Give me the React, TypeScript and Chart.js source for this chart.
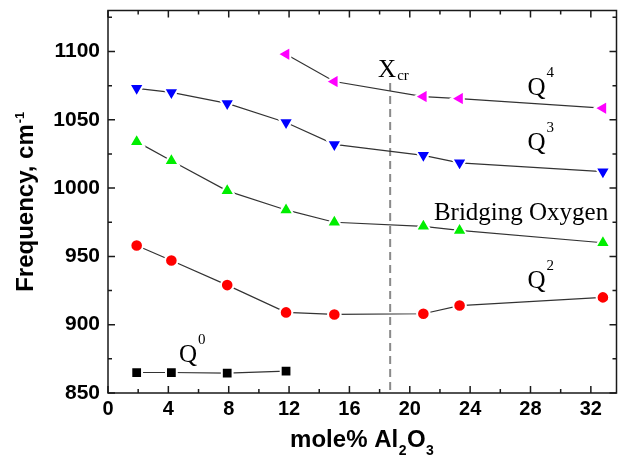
import React, { useEffect, useRef } from "react";
import { Chart, registerables } from "chart.js";

Chart.register(...registerables);

// ---- data ----
const xComp = [1.9, 4.2, 7.9, 11.8, 15.0, 20.9, 23.3, 32.8];
const xQ0 = [1.9, 4.2, 7.9, 11.8];
const xQ4 = [11.8, 15.0, 20.9, 23.3, 32.8];
const q0Values = [865, 865, 864.5, 866];
const q2Values = [958, 947, 929, 909, 907.5, 908, 914, 920];
const bridgingValues = [1034, 1020, 998, 984, 975, 972, 969, 960];
const q3Values = [1073, 1070, 1062, 1048, 1032, 1024, 1018.5, 1012];
const q4Values = [1098, 1078, 1067, 1065.5, 1058.5];
const xTickLabels = [0, 4, 8, 12, 16, 20, 24, 28, 32];
const yTickLabels = [850, 900, 950, 1000, 1050, 1100];
const xCritical = 18.7;

const SANS = '"Liberation Sans", Arial, sans-serif';
const SERIF = '"Liberation Serif", "Times New Roman", serif';

type Note = { x: number; y: number; main: string; script?: string; sup?: boolean };
const notes: Note[] = [
  { x: 17.9, y: 1081, main: "X", script: "cr", sup: false },
  { x: 27.8, y: 1068, main: "Q", script: "4", sup: true },
  { x: 27.8, y: 1028, main: "Q", script: "3", sup: true },
  { x: 27.8, y: 927, main: "Q", script: "2", sup: true },
  { x: 4.7, y: 872.5, main: "Q", script: "0", sup: true },
  { x: 21.6, y: 977, main: "Bridging Oxygen" },
];

const toPts = (xs: number[], ys: number[]) => ys.map((y, i) => ({ x: xs[i], y }));

const framePlugin = {
  id: "frameAndNotes",
  beforeDatasetsDraw(chart: any) {
    const { ctx, scales } = chart;
    const xs = scales.x;
    const ys = scales.y;
    const px = xs.getPixelForValue(xCritical);
    ctx.save();
    ctx.strokeStyle = "#8a8a8a";
    ctx.lineWidth = 2;
    ctx.setLineDash([8, 5]);
    ctx.beginPath();
    ctx.moveTo(px, ys.getPixelForValue(1077));
    ctx.lineTo(px, ys.getPixelForValue(850));
    ctx.stroke();
    ctx.restore();
  },
  afterDraw(chart: any) {
    const { ctx, chartArea, scales } = chart;
    const { left, right, top, bottom } = chartArea;
    const xs = scales.x;
    const ys = scales.y;
    ctx.save();
    ctx.setLineDash([]);
    ctx.strokeStyle = "#1a1a1a";
    ctx.lineWidth = 1.5;
    ctx.beginPath();
    ctx.rect(left, top, right - left, bottom - top);
    ctx.stroke();
    for (let v = 0; v <= xs.max + 1e-6; v += 2) {
      const p = xs.getPixelForValue(v);
      const len = v % 4 === 0 ? 7 : 4;
      ctx.beginPath();
      ctx.moveTo(p, bottom);
      ctx.lineTo(p, bottom - len);
      ctx.moveTo(p, top);
      ctx.lineTo(p, top + len);
      ctx.stroke();
    }
    for (let v = 850; v <= ys.max + 1e-6; v += 25) {
      const p = ys.getPixelForValue(v);
      const len = (v - 850) % 50 === 0 ? 7 : 4;
      ctx.beginPath();
      ctx.moveTo(left, p);
      ctx.lineTo(left + len, p);
      ctx.moveTo(right, p);
      ctx.lineTo(right - len, p);
      ctx.stroke();
    }
    ctx.fillStyle = "#000";
    ctx.textAlign = "left";
    ctx.textBaseline = "alphabetic";
    for (const n of notes) {
      const nx = xs.getPixelForValue(n.x);
      const ny = ys.getPixelForValue(n.y);
      ctx.font = `25px ${SERIF}`;
      ctx.fillText(n.main, nx, ny);
      if (n.script) {
        const w = ctx.measureText(n.main).width;
        ctx.font = `15px ${SERIF}`;
        ctx.fillText(n.script, nx + w + 1, n.sup ? ny - 18 : ny + 3);
      }
    }
    const cx = (left + right) / 2;
    const parts: [string, boolean][] = [["mole% Al", false], ["2", true], ["O", false], ["3", true]];
    const big = `bold 24px ${SANS}`;
    const small = `bold 14px ${SANS}`;
    let total = 0;
    for (const [t, s] of parts) {
      ctx.font = s ? small : big;
      total += ctx.measureText(t).width + (s ? 1 : 0);
    }
    let cur = cx - total / 2;
    for (const [t, s] of parts) {
      ctx.font = s ? small : big;
      ctx.fillText(t, cur + (s ? 0.5 : 0), s ? 455 : 447);
      cur += ctx.measureText(t).width + (s ? 1 : 0);
    }
    ctx.translate(33, (top + bottom) / 2);
    ctx.rotate(-Math.PI / 2);
    ctx.font = big;
    const mainT = "Frequency, cm";
    const wm = ctx.measureText(mainT).width;
    ctx.font = `bold 13px ${SANS}`;
    const wsup = ctx.measureText("-1").width;
    const tot = wm + wsup + 1;
    ctx.font = big;
    ctx.fillText(mainT, -tot / 2, 0);
    ctx.font = `bold 13px ${SANS}`;
    ctx.fillText("-1", -tot / 2 + wm + 1, -9);
    ctx.restore();
  },
};

export default function App() {
  const ref = useRef<HTMLCanvasElement | null>(null);
  useEffect(() => {
    document.body.style.margin = "0";
    if (!ref.current) return;
    const lineColor = "#333333";
    const common = {
      showLine: true,
      borderColor: lineColor,
      borderWidth: 1.2,
      pointBorderColor: "#ffffff",
      pointBorderWidth: 2,
      tension: 0,
    };
    const chart = new Chart(ref.current, {
      type: "scatter",
      data: {
        datasets: [
          { ...common, label: "Q0", data: toPts(xQ0, q0Values), pointStyle: "rect", pointRadius: 7.6, pointBackgroundColor: "#000000" },
          { ...common, label: "Q2", data: toPts(xComp, q2Values), pointStyle: "circle", pointRadius: 6.3, pointBackgroundColor: "#ff0000" },
          { ...common, label: "Bridging Oxygen", data: toPts(xComp, bridgingValues), pointStyle: "triangle", pointRadius: 8.5, pointBackgroundColor: "#00ee00" },
          { ...common, label: "Q3", data: toPts(xComp, q3Values), pointStyle: "triangle", pointRotation: 180, pointRadius: 8.5, pointBackgroundColor: "#0000ff" },
          { ...common, label: "Q4", data: toPts(xQ4, q4Values), pointStyle: "triangle", pointRotation: 270, pointRadius: 8.5, pointBackgroundColor: "#ff00ff" },
        ] as any,
      },
      options: {
        animation: false,
        responsive: false,
        maintainAspectRatio: false,
        layout: { padding: { left: 0, right: 2, top: 8, bottom: 0 } },
        plugins: { legend: { display: false }, tooltip: { enabled: false } },
        scales: {
          x: {
            type: "linear",
            min: 0,
            max: 33.7,
            grid: { display: false, drawTicks: false },
            border: { display: false },
            ticks: { color: "#000", font: { family: SANS, size: 20, weight: "bold" }, padding: 4, callback: (v: any) => String(v) },
            afterBuildTicks: (s: any) => { s.ticks = xTickLabels.map((v) => ({ value: v })); },
            afterFit: (s: any) => { s.height = 66; s.paddingLeft = 0; s.paddingRight = 0; s.paddingTop = 0; s.paddingBottom = 0; },
          },
          y: {
            type: "linear",
            min: 850,
            max: 1130,
            grid: { display: false, drawTicks: false },
            border: { display: false },
            ticks: { color: "#000", font: { family: SANS, size: 21, weight: "bold" }, padding: 8, callback: (v: any) => String(v) },
            afterBuildTicks: (s: any) => { s.ticks = yTickLabels.map((v) => ({ value: v })); },
            afterFit: (s: any) => { s.width = 108; s.paddingLeft = 0; s.paddingRight = 0; s.paddingTop = 0; s.paddingBottom = 0; },
          },
        },
      } as any,
      plugins: [framePlugin],
    });
    return () => chart.destroy();
  }, []);
  return (
    <div style={{ position: "fixed", left: 0, top: 0, width: 627, height: 459, background: "#fff" }}>
      <canvas ref={ref} width={627} height={459} style={{ width: 627, height: 459, display: "block" }} />
    </div>
  );
}
